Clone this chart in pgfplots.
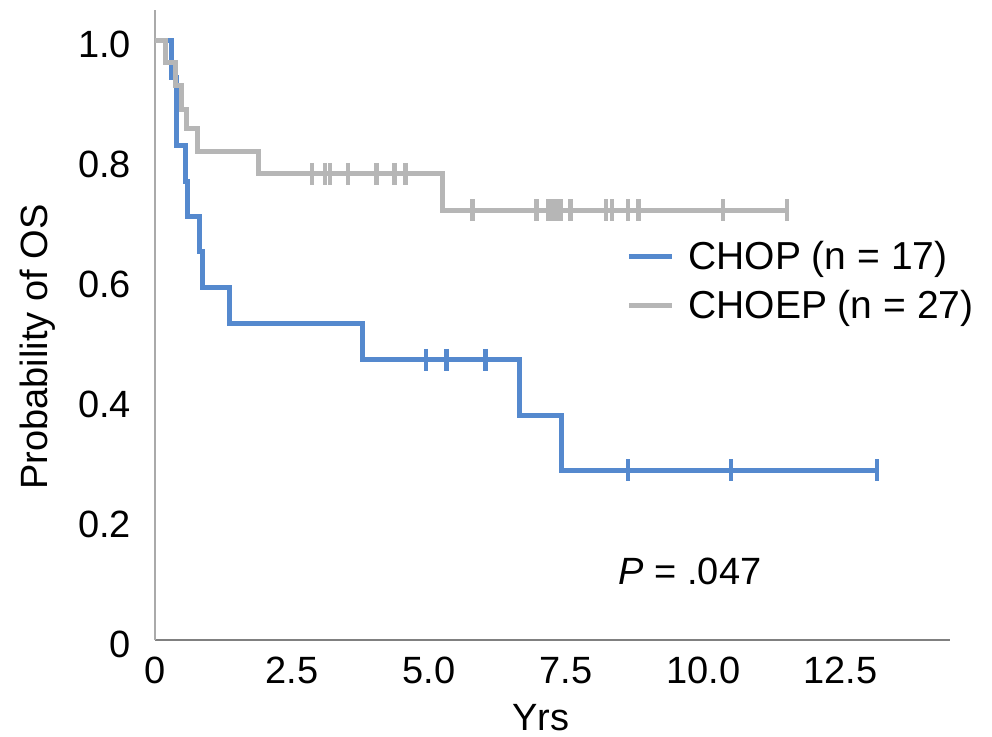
\documentclass[border=0pt]{standalone}
\usepackage{fontspec}
\setmainfont{Liberation Sans}
\usepackage{pgfplots}
\pgfplotsset{compat=1.18}

\definecolor{chop}{RGB}{85,137,206}
\definecolor{choep}{RGB}{182,182,182}
\newcommand{\chartfont}{\fontsize{19}{22}\selectfont}
\newcommand{\legendfont}{\fontsize{19.5}{22.5}\selectfont}

\begin{document}
\begin{tikzpicture}
\begin{axis}[
  scale only axis,
  width=397.5pt, height=315pt,
  xmin=0, xmax=14.5, ymin=0, ymax=1.05,
  enlargelimits=false,
  axis x line=bottom, axis y line=left,
  x axis line style={-, draw={rgb,255:red,128;green,128;blue,128}, line width=0.8pt},
  y axis line style={-, draw={rgb,255:red,170;green,170;blue,170}, line width=0.7pt},
  major tick length=0pt,
  xtick={0,2.5,5,7.5,10,12.5},
  xticklabels={0,2.5,5.0,7.5,10.0,12.5},
  ytick={0,0.2,0.4,0.6,0.8,1.0},
  yticklabels={0,0.2,0.4,0.6,0.8,1.0},
  tick label style={font=\chartfont},
  xticklabel style={yshift=-5pt},
  yticklabel style={xshift=-8.5pt, yshift=-2pt},
  label style={font=\chartfont},
  xlabel={Yrs},
  xlabel style={at={(axis description cs:0.485,0)}, anchor=north, yshift=-28.5pt},
  ylabel={Probability of OS},
  ylabel style={at={(axis description cs:-0.147,0.465)}, anchor=center},
  legend style={at={(rel axis cs:0.585,0.647)}, anchor=north west,
    draw=none, fill=none, font=\legendfont, row sep=5pt,
    /tikz/every odd column/.append style={column sep=5pt}},
  legend cell align=left,
  legend image code/.code={\draw[#1] (0pt,0pt) -- (21.5pt,0pt);},
  every axis plot/.append style={line width=2.5pt, line join=miter},
]
% Kaplan-Meier steps
\addplot[chop, const plot] coordinates {
  (0,1.0) (0.31,0.937) (0.40,0.824) (0.55,0.765) (0.60,0.706)
  (0.82,0.647) (0.87,0.588) (1.35,0.527) (3.79,0.467)
  (6.65,0.375) (7.41,0.283) (13.17,0.283)};
\addlegendentry{CHOP (n = 17)}
\addplot[choep, const plot] coordinates {
  (0,1.0) (0.20,0.962) (0.38,0.924) (0.49,0.884) (0.58,0.852)
  (0.77,0.815) (1.88,0.777) (5.25,0.716) (11.53,0.716)};
\addlegendentry{CHOEP (n = 27)}
% censored observations
\addplot[chop, only marks, mark=|, mark size=5.5pt, forget plot,
  mark options={line width=2.2pt}] coordinates {
  (4.94,0.467) (5.32,0.467) (6.03,0.467)
  (8.63,0.283) (10.51,0.283) (13.17,0.283)};
\addplot[choep, only marks, mark=|, mark size=5.5pt, forget plot,
  mark options={line width=2.2pt}] coordinates {
  (2.86,0.777) (3.10,0.777) (3.19,0.777) (3.52,0.777) (4.04,0.777)
  (4.37,0.777) (4.57,0.777)
  (5.79,0.716) (6.96,0.716) (7.18,0.716) (7.25,0.716) (7.32,0.716)
  (7.40,0.716) (7.58,0.716) (8.23,0.716) (8.34,0.716) (8.63,0.716)
  (8.82,0.716) (10.36,0.716) (11.53,0.716)};
\node[anchor=base west, inner sep=0pt, font=\chartfont] at (axis cs:8.45,0.092)
  {\textit{P} = .047};
\coordinate (O) at (axis cs:0,0);
\end{axis}
\pgfresetboundingbox
\useasboundingbox (O) ++(-77.5pt,-48pt) rectangle ++(496pt,368pt);
\end{tikzpicture}
\end{document}
